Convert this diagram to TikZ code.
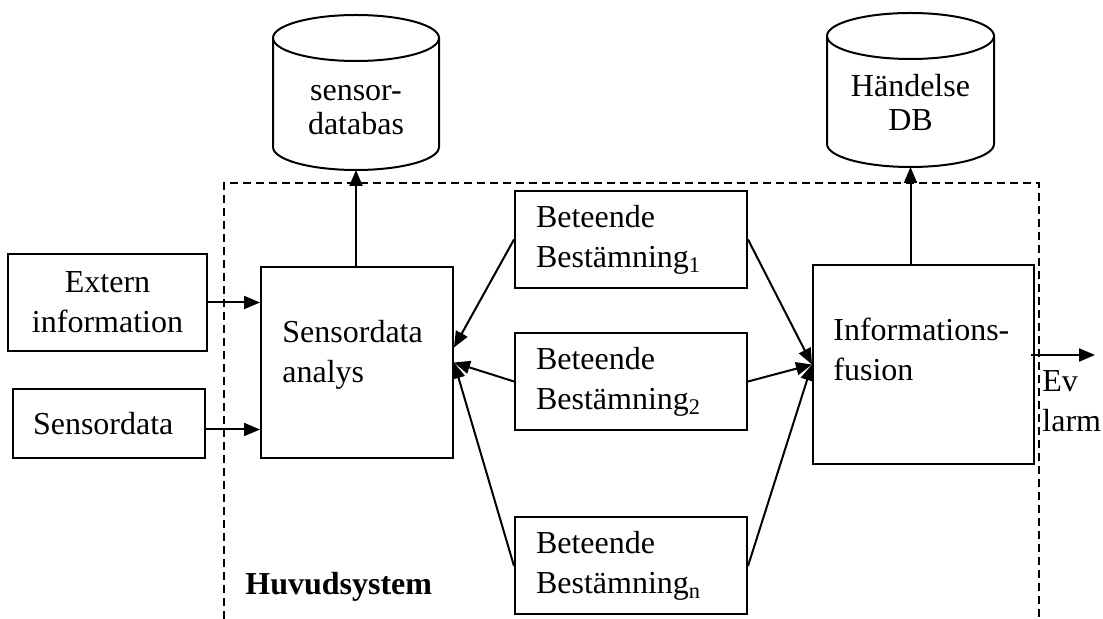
\documentclass[tikz,border=0pt]{standalone}
\usepackage{fontspec}
\setmainfont{Liberation Serif}
\usetikzlibrary{arrows.meta}
\begin{document}
\begin{tikzpicture}[x=0.5pt,y=-0.5pt,
  every node/.style={font=\fontsize{16pt}{20pt}\selectfont},
  box/.style={draw, line width=1pt, inner ysep=0pt},
  lbox/.style={box, align=left, inner xsep=10.5pt},
  txt/.style={inner sep=0pt, align=left},
  dbtxt/.style={inner sep=0pt, align=center, font=\fontsize{16pt}{17pt}\selectfont},
  dbline/.style={line width=1pt},
  arr/.style={-{Triangle[length=8pt,width=6.5pt]}, line width=1pt},
  frame/.style={line width=0.9pt, dash pattern=on 4pt off 2.5pt}]
\useasboundingbox (0,0) rectangle (1103,619);

% system boundary (open at the bottom)
\draw[frame] (224,619) -- (224,183) -- (1039,183) -- (1039,619);

% databases (multi-line text: base anchor sits on the last line)
\draw[dbline] (273,38) -- (273,147)
  arc[start angle=180, end angle=360, x radius=41.5pt, y radius=11.5pt] -- (439,38);
\draw[dbline] (356,38) ellipse[x radius=41.5pt, y radius=11.5pt];
\node[dbtxt, anchor=base] (db1) at (356,135) {sensor-\\databas};
\coordinate (db1bot) at (356,170);

\draw[dbline] (827,36) -- (827,144)
  arc[start angle=180, end angle=360, x radius=41.75pt, y radius=11.5pt] -- (994,36);
\draw[dbline] (910.5,36) ellipse[x radius=41.75pt, y radius=11.5pt];
\node[dbtxt, anchor=base] (db2) at (910.5,131) {Händelse\\DB};
\coordinate (db2bot) at (910.5,167);

% inputs
\node[box, align=center, minimum width=99.5pt, minimum height=48.5pt] (ext) at (107.5,302.5) {Extern\\information};
\node[lbox, inner xsep=10pt, text width=76pt, minimum height=34.5pt] (sd) at (109,423.5) {Sensordata};

% processing blocks
\node[box, minimum width=96pt, minimum height=95.5pt] (sa) at (357,362.5) {};
\node[txt, anchor=base west] (satxt) at (282,383) {Sensordata\\analys};

\node[lbox, text width=95pt, minimum height=48.5pt] (b1) at (631,239.5) {Beteende\\Bestämning\textsubscript{1}};
\node[lbox, text width=95pt, minimum height=48.5pt] (b2) at (631,381.5) {Beteende\\Bestämning\textsubscript{2}};
\node[lbox, text width=95pt, minimum height=48.5pt] (bn) at (631,566) {Beteende\\Bestämning\textsubscript{n}};

\node[box, minimum width=110.5pt, minimum height=99.5pt] (if) at (923.5,364.5) {};
\node[txt, anchor=base west] (iftxt) at (833,381) {Informations-\\fusion};

% output
\coordinate (out) at (1095,355);
\node[txt, anchor=base west] (ev) at (1042,432) {Ev\\larm};

\node[inner sep=0pt, anchor=base west, font=\fontsize{16pt}{20pt}\selectfont\bfseries] (hs) at (245,595) {Huvudsystem};

% connectors
\draw[arr] (ext.east) -- (ext.east -| sa.west);
\draw[arr] ([yshift=-3pt]sd.east) -- ([yshift=-3pt]sd.east -| sa.west);
\draw[arr] (db1bot |- sa.north) -- (db1bot);
\draw[arr] (db2bot |- if.north) -- (db2bot);

\draw[arr] (b1.west) -- ([yshift=7.5pt]sa.east);
\draw[arr] (b2.west) -- (sa.east);
\draw[arr] (bn.west) -- (sa.east);

\draw[arr] (b1.east) -- (if.west);
\draw[arr] (b2.east) -- (if.west);
\draw[arr] (bn.east) -- (if.west);

\draw[arr] ([xshift=-2pt]if.east |- out) -- (out);
\end{tikzpicture}
\end{document}
